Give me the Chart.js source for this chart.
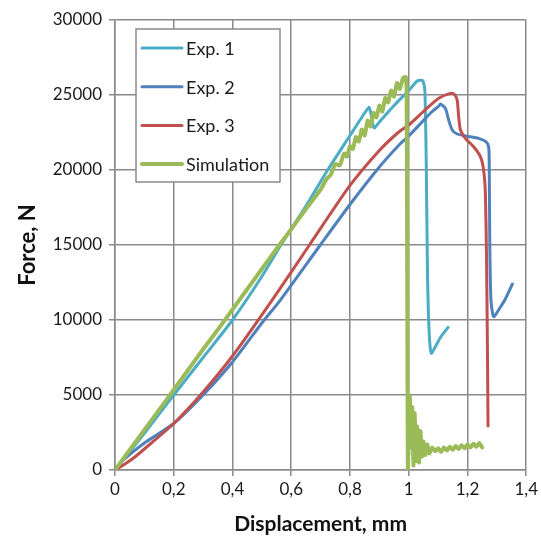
<!DOCTYPE html>
<html>
<head>
<meta charset="utf-8">
<script src="https://cdn.jsdelivr.net/npm/chart.js@4.4.1/dist/chart.umd.min.js"></script>
<style>
  html, body { margin: 0; padding: 0; background: #fff; }
  #wrap { width: 541px; height: 543px; position: relative; }
</style>
</head>
<body>
<div id="wrap"><canvas id="c" width="541" height="543"></canvas></div>
<script>
// ---- Data ----
const seriesNames = ['Exp. 1', 'Exp. 2', 'Exp. 3', 'Simulation'];

const exp1X = [0, 0.05, 0.1, 0.2, 0.3, 0.4, 0.5, 0.565, 0.65, 0.724, 0.8, 0.85, 0.865, 0.872, 0.882, 0.9, 0.95, 1.0, 1.03, 1.048, 1.055, 1.06, 1.064, 1.07, 1.077, 1.09, 1.11, 1.134];
const exp1Y = [0, 1200, 2450, 5000, 7500, 10000, 12900, 15000, 17600, 20000, 22300, 23800, 24180, 23700, 22800, 23200, 24300, 25300, 25950, 25950, 25300, 20000, 13000, 9000, 7780, 8200, 8900, 9510];

const exp2X = [0, 0.03, 0.062, 0.1, 0.2, 0.3, 0.4, 0.5, 0.563, 0.699, 0.8, 0.9, 0.967, 1.0, 1.05, 1.08, 1.102, 1.108, 1.125, 1.136, 1.148, 1.165, 1.193, 1.238, 1.263, 1.272, 1.274, 1.276, 1.28, 1.289, 1.31, 1.329, 1.353];
const exp2Y = [0, 700, 1220, 1800, 3100, 5000, 7200, 9800, 11330, 15000, 17700, 20200, 21670, 22270, 23300, 23900, 24250, 24400, 24110, 23330, 22670, 22400, 22270, 22110, 21890, 21550, 20670, 15000, 11300, 10220, 10800, 11400, 12400];

const exp3X = [0, 0.03, 0.062, 0.1, 0.2, 0.3, 0.4, 0.535, 0.662, 0.797, 0.9, 0.967, 1.0, 1.05, 1.102, 1.142, 1.155, 1.165, 1.17, 1.176, 1.193, 1.221, 1.244, 1.255, 1.261, 1.265, 1.268, 1.27];
const exp3Y = [0, 350, 780, 1400, 3100, 5200, 7600, 11330, 15000, 18890, 21300, 22550, 23000, 23900, 24780, 25110, 25050, 24670, 23550, 22670, 22110, 21550, 20890, 20000, 18440, 14000, 8000, 2930];

const simX = [0, 0.05, 0.1, 0.15, 0.2, 0.25, 0.3, 0.35, 0.4, 0.45, 0.5, 0.55, 0.6, 0.65, 0.7, 0.72, 0.735, 0.75, 0.765, 0.78, 0.79, 0.8, 0.81, 0.82, 0.83, 0.84, 0.85, 0.86, 0.87, 0.88, 0.89, 0.9, 0.91, 0.92, 0.93, 0.94, 0.95, 0.96, 0.97, 0.98, 0.99, 0.993, 0.995, 0.997, 1.0, 1.004, 1.008, 1.012, 1.016, 1.02, 1.025, 1.03, 1.035, 1.04, 1.045, 1.05, 1.056, 1.063, 1.07, 1.08, 1.09, 1.1, 1.11, 1.12, 1.13, 1.14, 1.15, 1.16, 1.17, 1.18, 1.19, 1.2, 1.21, 1.22, 1.23, 1.24, 1.25];
const simY = [0, 1330, 2680, 4000, 5350, 6700, 8050, 9350, 10700, 12050, 13400, 14750, 16050, 17400, 18700, 19400, 19700, 20400, 20300, 21100, 20900, 21600, 21400, 22200, 21900, 22700, 22300, 23300, 22900, 23800, 23500, 24300, 23900, 24800, 24500, 25300, 24900, 25800, 25400, 26100, 26200, 25000, 12000, 0, 2000, 4900, 1500, 4200, 300, 3800, 600, 2900, 500, 2600, 900, 1900, 1000, 1700, 1100, 1500, 1250, 1450, 1200, 1500, 1300, 1550, 1350, 1600, 1400, 1650, 1450, 1700, 1500, 1750, 1550, 1800, 1500];

const xTickLabels = ['0', '0,2', '0,4', '0,6', '0,8', '1', '1,2', '1,4'];
const yTickLabels = ['0', '5000', '10000', '15000', '20000', '25000', '30000'];

const colors = ['#4BACC6', '#4F81BD', '#C0504D', '#9BBB59'];

function pts(xs, ys) { return xs.map((x, i) => ({ x: x, y: ys[i] })); }

const FONT = 'Lato, "Open Sans", sans-serif';
const GRID = '#8a8a8a';

const legendPlugin = {
  id: 'boxLegend',
  afterDatasetsDraw(chart) {
    const ctx = chart.ctx;
    const bx = 136, by = 29, bw = 144, bh = 153;
    ctx.save();
    ctx.fillStyle = '#fff';
    ctx.fillRect(bx, by, bw, bh);
    ctx.strokeStyle = GRID;
    ctx.lineWidth = 1.5;
    ctx.strokeRect(bx, by, bw, bh);
    ctx.font = '18px ' + FONT;
    ctx.textBaseline = 'middle';
    ctx.textAlign = 'left';
    chart.data.datasets.forEach((ds, i) => {
      const y = 48 + i * 38.7;
      ctx.strokeStyle = ds.borderColor;
      ctx.lineWidth = ds.borderWidth;
      ctx.lineCap = 'round';
      ctx.beginPath();
      ctx.moveTo(142, y);
      ctx.lineTo(182, y);
      ctx.stroke();
      ctx.fillStyle = '#1a1a1a';
      ctx.fillText(ds.label, 186, y + 1);
    });
    ctx.restore();
  }
};

const datasets = [
  { label: seriesNames[0], data: pts(exp1X, exp1Y), borderColor: colors[0], borderWidth: 3, order: 4 },
  { label: seriesNames[1], data: pts(exp2X, exp2Y), borderColor: colors[1], borderWidth: 3, order: 3 },
  { label: seriesNames[2], data: pts(exp3X, exp3Y), borderColor: colors[2], borderWidth: 3, order: 2 },
  { label: seriesNames[3], data: pts(simX, simY), borderColor: colors[3], borderWidth: 4, order: 1 }
].map(d => Object.assign(d, { showLine: true, pointRadius: 0, fill: false, tension: 0.2, borderJoinStyle: 'round', borderCapStyle: 'round' }));

new Chart(document.getElementById('c'), {
  type: 'scatter',
  data: { datasets: datasets },
  options: {
    responsive: false,
    animation: false,
    devicePixelRatio: 1,
    layout: { padding: { left: 0, right: 13, top: 20, bottom: 0 } },
    plugins: { legend: { display: false }, tooltip: { enabled: false } },
    scales: {
      x: {
        type: 'linear', min: 0, max: 1.4,
        afterFit(s) { s.height = 73; },
        ticks: { stepSize: 0.2, color: '#1a1a1a', font: { family: FONT, size: 17 }, padding: 3,
          callback: (v, i) => xTickLabels[i] },
        grid: { color: GRID, lineWidth: 1.5, tickLength: 6, drawTicks: true },
        border: { color: GRID, width: 1.5 },
        title: { display: true, text: 'Displacement, mm', color: '#111', font: { family: FONT, size: 21, weight: 'bold' }, padding: { top: 0, bottom: 6 } }
      },
      y: {
        type: 'linear', min: 0, max: 30000,
        afterFit(s) { s.width = 115; },
        ticks: { stepSize: 5000, color: '#1a1a1a', font: { family: FONT, size: 17 }, padding: 7,
          callback: (v, i) => yTickLabels[i] },
        grid: { color: GRID, lineWidth: 1.5, tickLength: 6 },
        border: { color: GRID, width: 1.5 },
        title: { display: true, text: 'Force, N', color: '#111', font: { family: FONT, size: 22, weight: 'bold' }, padding: { top: 15, bottom: 0 } }
      }
    }
  },
  plugins: [legendPlugin]
});
</script>
</body>
</html>
